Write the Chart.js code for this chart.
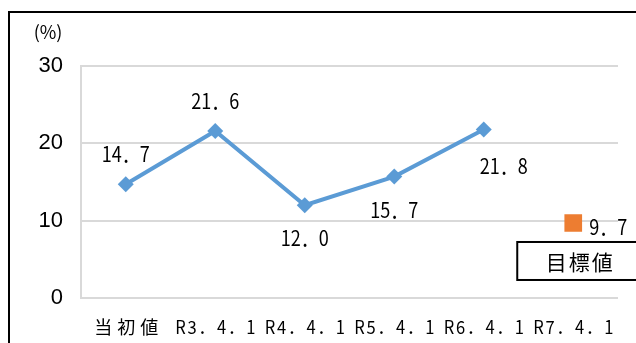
<!DOCTYPE html>
<html>
<head>
<meta charset="utf-8">
<script src="https://cdn.jsdelivr.net/npm/chart.js@4"></script>
<style>
  html, body { margin: 0; padding: 0; background: #fff; }
  #wrap { width: 636px; height: 343px; }
</style>
</head>
<body>
<div id="wrap"><canvas id="myChart" width="636" height="343"></canvas></div>
<script>
'use strict';

// data
let categories = ['当初値', 'R3．4．1', 'R4．4．1', 'R5．4．1', 'R6．4．1', 'R7．4．1'];
let actual = [14.7, 21.6, 12.0, 15.7, 21.8, null];
let target = [null, null, null, null, null, 9.7];
let yTicks = [0, 10, 20, 30];
let targetLabel = '目標値';

let jpFont = '"Noto Sans CJK JP", "Noto Sans", sans-serif';

function fmt(v) {
  return v.toFixed(1).replace('.', '．');
}

// squeezed text, the original font has narrow digits
function narrowText(ctx, text, x, y, sx) {
  ctx.save();
  ctx.translate(x, y);
  ctx.scale(sx, 1);
  ctx.fillText(text, 0, 0);
  ctx.restore();
}

// where each value label sits relative to its point
let labelPos = ['above', 'above', 'below', 'below', 'belowRight', 'right'];

let decor = {
  id: 'decor',
  beforeDraw(chart) {
    let ctx = chart.ctx;
    ctx.save();
    ctx.strokeStyle = '#000';
    ctx.lineWidth = 2;
    ctx.strokeRect(9, 12, 700, 400);
    ctx.fillStyle = '#000';
    ctx.font = '18px ' + jpFont;
    ctx.textAlign = 'center';
    ctx.textBaseline = 'middle';
    ctx.fillText('(%)', 48, 32);
    ctx.restore();
  },
  afterDraw(chart) {
    let ctx = chart.ctx;
    ctx.save();
    ctx.fillStyle = '#000';
    ctx.textBaseline = 'middle';

    // category labels
    let xs = chart.scales.x;
    ctx.font = '18px ' + jpFont;
    ctx.textAlign = 'center';
    categories.forEach((c, i) => {
      let x = xs.getPixelForTick(i);
      if (i === 0) {
        ctx.letterSpacing = '5px';
        narrowText(ctx, c, x + 3, 327, 1);
      } else {
        ctx.letterSpacing = '2px';
        narrowText(ctx, c, x + 1, 327, 0.92);
      }
    });
    ctx.letterSpacing = '0px';

    // value labels
    ctx.font = '21px ' + jpFont;
    chart.data.datasets.forEach((ds, di) => {
      let meta = chart.getDatasetMeta(di);
      meta.data.forEach((pt, i) => {
        let v = ds.data[i];
        if (v === null) return;
        let pos = labelPos[i];
        let x = pt.x, y = pt.y;
        ctx.textAlign = 'center';
        if (pos === 'above') { y -= 30; }
        else if (pos === 'below') { y += 33; }
        else if (pos === 'belowRight') { x += 20; y += 37; }
        else if (pos === 'right') { ctx.textAlign = 'left'; x += 16; y += 4; }
        narrowText(ctx, fmt(v), x, y, 0.86);
      });
    });

    // target box under the target marker
    let tm = chart.getDatasetMeta(1).data[5];
    let bx = tm.x - 56, by = tm.y + 19, bw = 122, bh = 38;
    ctx.fillStyle = '#fff';
    ctx.fillRect(bx, by, bw, bh);
    ctx.strokeStyle = '#000';
    ctx.lineWidth = 2;
    ctx.strokeRect(bx, by, bw, bh);
    ctx.fillStyle = '#000';
    ctx.textAlign = 'center';
    ctx.font = '21px ' + jpFont;
    ctx.letterSpacing = '2px';
    ctx.fillText(targetLabel, bx + 63, by + bh / 2 + 1);
    ctx.restore();
  }
};

let ctx = document.getElementById('myChart').getContext('2d');
new Chart(ctx, {
  type: 'line',
  data: {
    labels: categories,
    datasets: [{
      label: '実績',
      data: actual,
      borderColor: '#5b9bd5',
      backgroundColor: '#5b9bd5',
      borderWidth: 4,
      pointStyle: 'rectRot',
      pointRadius: 8,
      pointBorderWidth: 0,
      tension: 0,
      spanGaps: false
    },
    {
      label: '目標値',
      data: target,
      borderColor: '#ed7d31',
      backgroundColor: '#ed7d31',
      showLine: false,
      pointStyle: 'rect',
      pointRadius: 12.5,
      pointBorderWidth: 0
    }]
  },
  options: {
    responsive: false,
    animation: false,
    layout: { padding: { left: 9, right: 18, top: 66, bottom: 0 } },
    plugins: {
      legend: { display: false },
      tooltip: { enabled: false }
    },
    scales: {
      x: {
        offset: true,
        grid: { display: false, drawTicks: false },
        border: { display: false },
        ticks: { display: false, autoSkip: false },
        afterFit(scale) { scale.height = 45; }
      },
      y: {
        min: 0,
        max: 30,
        afterBuildTicks(scale) { scale.ticks = yTicks.map(v => ({ value: v })); },
        grid: { color: '#d9d9d9', lineWidth: 2, drawTicks: false },
        border: { color: '#d9d9d9', width: 2 },
        ticks: {
          color: '#000',
          font: { family: '"Liberation Sans", Arial, sans-serif', size: 22 },
          padding: 18
        },
        afterFit(scale) { scale.width = 72; }
      }
    }
  },
  plugins: [decor]
});
</script>
</body>
</html>
